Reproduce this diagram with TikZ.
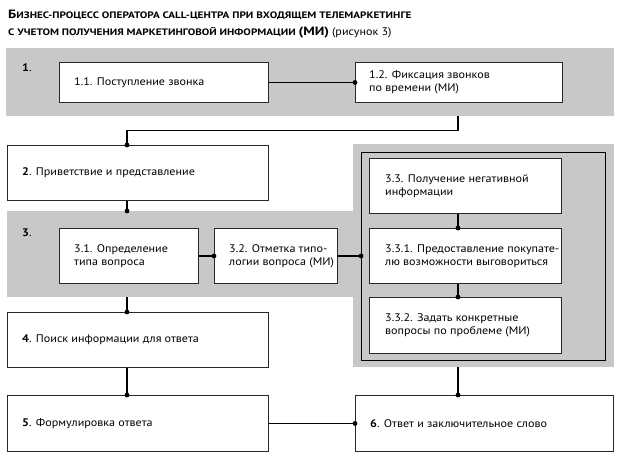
\documentclass[tikz,border=0pt]{standalone}
\usepackage{fontspec}
\setmainfont{PT Sans}[FakeStretch=1.1]
\newfontfamily\titlefam{PT Sans}[FakeStretch=1.2]
\newcommand\bodyfont{\fontsize{11}{13}\selectfont}
\newcommand\scf{\titlefam\fontsize{9.35}{10}\selectfont\bfseries}
\newcommand\bigf{\titlefam\fontsize{12}{12}\selectfont\bfseries}
\definecolor{bandgray}{RGB}{200,200,200}
\definecolor{framegray}{RGB}{40,40,40}
\begin{document}
\begin{tikzpicture}[x=1pt,y=-1pt,
  frame/.style={draw=framegray, line width=0.9pt, fill=white, inner sep=0pt, anchor=north west},
  band/.style={fill=bandgray, inner sep=0pt, anchor=north west},
  outerframe/.style={draw=black, line width=1pt, inner sep=0pt, anchor=north west},
  txt/.style={anchor=west, align=left, inner sep=0pt, font=\bodyfont},
  ttl/.style={anchor=west, inner sep=0pt},
  conn/.style={line width=1.1pt},
  dot/.style={circle, fill=black, inner sep=0pt, minimum size=4.8pt}]
\useasboundingbox (0,0) rectangle (621,459);

% title
\node[ttl] (title1) at (8,15) {{\bigf Б}{\scf ИЗНЕС-ПРОЦЕСС ОПЕРАТОРА CALL-ЦЕНТРА ПРИ ВХОДЯЩЕМ ТЕЛЕМАРКЕТИНГЕ}};
\node[ttl] (title2) at (8,33) {{\scf С УЧЕТОМ ПОЛУЧЕНИЯ МАРКЕТИНГОВОЙ ИНФОРМАЦИИ }{\bigf (МИ)}\ {\bodyfont (рисунок 3)}};

% gray bands
\node[band, minimum width=608pt, minimum height=68pt] (band1) at (6,48) {};
\node[band, minimum width=346pt, minimum height=86pt] (band3) at (7,211) {};
\node[band, minimum width=261pt, minimum height=223pt] (rgray) at (353,144) {};
\node[outerframe, minimum width=244pt, minimum height=208pt] (outer) at (361,152) {};

% band labels
\node[txt] (l1) at (22,68) {\textbf{1}.};
\node[txt] (l3) at (22,233) {\textbf{3}.};

% boxes
\node[frame, minimum width=209pt, minimum height=40pt] (b11) at (59,62) {};
\node[frame, minimum width=207pt, minimum height=40pt] (b12) at (355,62) {};
\node[frame, minimum width=261pt, minimum height=55pt] (b2) at (7,145) {};
\node[frame, minimum width=139pt, minimum height=55pt] (b31) at (59,228) {};
\node[frame, minimum width=123pt, minimum height=55pt] (b32) at (214,228) {};
\node[frame, minimum width=192pt, minimum height=55pt] (b33) at (369,158) {};
\node[frame, minimum width=192pt, minimum height=55pt] (b331) at (369,228) {};
\node[frame, minimum width=192pt, minimum height=56pt] (b332) at (369,297) {};
\node[frame, minimum width=261pt, minimum height=55pt] (b4) at (7,312) {};
\node[frame, minimum width=261pt, minimum height=56pt] (b5) at (7,395) {};
\node[frame, minimum width=258pt, minimum height=56pt] (b6) at (355,395) {};

% texts
\node[txt] (t11) at ([xshift=15pt]b11.west) {1.1. Поступление звонка};
\node[txt] (t12) at ([xshift=14pt]b12.west) {1.2. Фиксация звонков\\по времени (МИ)};
\node[txt] (t2) at ([xshift=15pt]b2.west) {\textbf{2}. Приветствие и представление};
\node[txt] (t31) at ([xshift=15pt]b31.west) {3.1. Определение\\типа вопроса};
\node[txt] (t32) at ([xshift=15pt]b32.west) {3.2. Отметка типо-\\логии вопроса (МИ)};
\node[txt] (t33) at ([xshift=16pt]b33.west) {3.3. Получение негативной\\информации};
\node[txt] (t331) at ([xshift=16pt]b331.west) {3.3.1. Предоставление покупате-\\лю возможности выговориться};
\node[txt] (t332) at ([xshift=16pt]b332.west) {3.3.2. Задать конкретные\\вопросы по проблеме (МИ)};
\node[txt] (t4) at ([xshift=15pt]b4.west) {\textbf{4}. Поиск информации для ответа};
\node[txt] (t5) at ([xshift=15pt]b5.west) {\textbf{5}. Формулировка ответа};
\node[txt] (t6) at ([xshift=15pt]b6.west) {\textbf{6}. Ответ и заключительное слово};

% connectors
\coordinate (xl) at (127,0);
\coordinate (xr) at (458,0);
\draw[conn] (b11.east) -- (b12.west) node[dot] (d1) {};
\draw[conn] (band1.south -| xr) -- ++(0,14) -| (b2.north -| xl) node[dot] (d2) {};
\draw[conn] (b2.south -| xl) -- (band3.north -| xl) node[dot] (d3) {};
\draw[conn] (b31.east) -- (b32.west) node[dot] (d4) {};
\draw[conn] (b32.east) -- (b32.east -| outer.west) node[dot] (d5) {};
\draw[conn] (b33.south -| xr) -- (b331.north -| xr) node[dot] (d6) {};
\draw[conn] (b331.south -| xr) -- (b332.north -| xr) node[dot] (d7) {};
\draw[conn] (band3.south -| xl) -- (b4.north -| xl) node[dot] (d8) {};
\draw[conn] (b4.south -| xl) -- (b5.north -| xl) node[dot] (d9) {};
\draw[conn] (b5.east) -- (b5.east -| b6.west) node[dot] (d10) {};
\draw[conn] (rgray.south -| xr) -- (b6.north -| xr) node[dot] (d11) {};
\end{tikzpicture}
\end{document}
